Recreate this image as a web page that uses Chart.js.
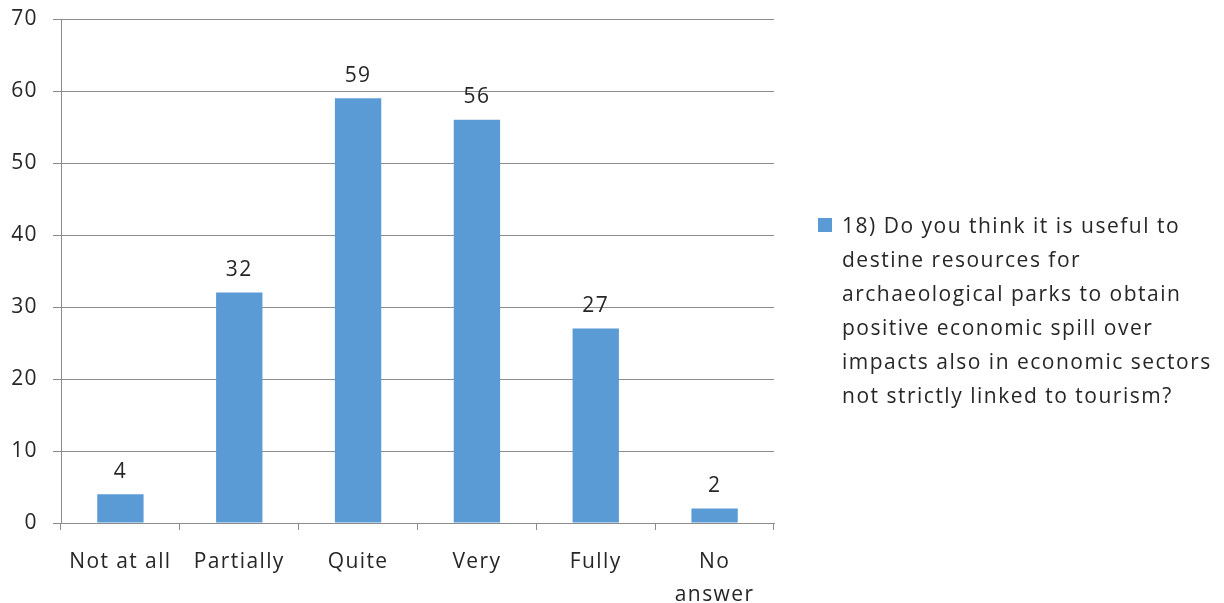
<!DOCTYPE html>
<html lang="en">
<head>
<meta charset="UTF-8">
<title>Archaeological parks - Q18</title>
<script src="https://cdn.jsdelivr.net/npm/chart.js"></script>
<style>
    html, body { margin: 0; padding: 0; background: #fff; }
    #wrap { position: relative; width: 1224px; height: 603px; }
    #legend { position: absolute; left: 818px; top: 208px; font-family: "Open Sans", sans-serif; font-size: 21px; letter-spacing: 1.5px; line-height: 34px; color: #262626; }
    #legend .box { position: absolute; left: 0; top: 10px; width: 14px; height: 14px; background: #5B9BD5; }
    #legend .txt { margin-left: 24px; white-space: nowrap; }
</style>
</head>
<body>
<div id="wrap">
    <canvas id="chart" width="1224" height="603"></canvas>
    <div id="legend"><span class="box"></span><div class="txt" id="legendText"></div></div>
</div>
<script>
// Data
const categories = ['Not at all', 'Partially', 'Quite', 'Very', 'Fully', ['No', 'answer']];
const answers = [4, 32, 59, 56, 27, 2];
const yTicks = [0, 10, 20, 30, 40, 50, 60, 70];
const seriesName = [
    '18) Do you think it is useful to',
    'destine resources for',
    'archaeological parks to obtain',
    'positive economic spill over',
    'impacts also in economic sectors',
    'not strictly linked to tourism?'
];

const BAR_BLUE = '#5B9BD5';
const GRID = '#8c8c8c';
const TEXT = '#262626';
const FONT = '"Open Sans", sans-serif';

document.getElementById('legendText').innerHTML = seriesName.join('<br>');

// wider letter spacing, like the original rendering
const spacing = {
    id: 'spacing',
    beforeDraw(chart) { chart.ctx.letterSpacing = '1.4px'; }
};

// value labels above each bar
const valueLabels = {
    id: 'valueLabels',
    afterDatasetsDraw(chart) {
        const ctx = chart.ctx;
        const meta = chart.getDatasetMeta(0);
        ctx.save();
        ctx.font = '21px ' + FONT;
        ctx.fillStyle = TEXT;
        ctx.textAlign = 'center';
        ctx.textBaseline = 'bottom';
        meta.data.forEach((bar, i) => {
            ctx.fillText(String(answers[i]), bar.x, bar.y - 12);
        });
        ctx.restore();
    }
};

new Chart(document.getElementById('chart'), {
    type: 'bar',
    data: {
        labels: categories,
        datasets: [{
            label: seriesName.join(' '),
            data: answers,
            backgroundColor: BAR_BLUE,
            borderWidth: 0,
            barPercentage: 0.39,
            categoryPercentage: 1.0
        }]
    },
    options: {
        responsive: false,
        animation: false,
        layout: { padding: { top: 0, right: 450, left: 0, bottom: 0 } },
        plugins: {
            legend: { display: false },
            tooltip: { enabled: false }
        },
        scales: {
            x: {
                afterFit(scale) { scale.height = 80; },
                grid: { drawOnChartArea: false, drawTicks: true, tickLength: 7, color: GRID, lineWidth: 1 },
                border: { color: GRID, width: 1 },
                ticks: { color: TEXT, font: { family: FONT, size: 21, lineHeight: 1.6 }, padding: 15, maxRotation: 0, autoSkip: false }
            },
            y: {
                min: 0,
                max: 70,
                afterFit(scale) { scale.width = 61; scale.paddingTop = 19; scale.paddingBottom = 0; },
                afterBuildTicks(scale) { scale.ticks = yTicks.map(v => ({ value: v })); },
                grid: { color: GRID, lineWidth: 1, tickLength: 8 },
                border: { color: GRID, width: 1 },
                ticks: { color: TEXT, font: { family: FONT, size: 21 }, padding: 15 }
            }
        }
    },
    plugins: [spacing, valueLabels]
});
</script>
</body>
</html>
